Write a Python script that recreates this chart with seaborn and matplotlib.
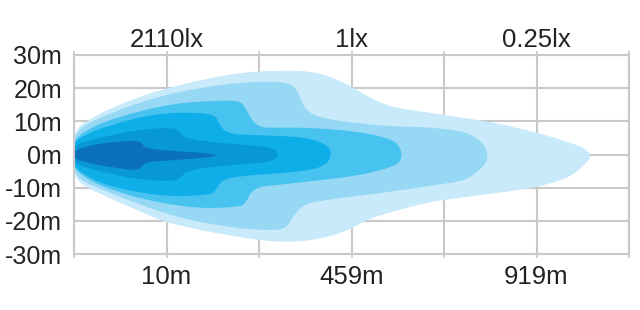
import numpy as np
import matplotlib
matplotlib.use("Agg")
import matplotlib.pyplot as plt
import seaborn as sns

# ---- data (x in grid units 0..6, y in metres) ----
bottom_labels = ["", "10m", "", "459m", "", "919m", ""]
top_labels = ["", "2110lx", "", "1lx", "", "0.25lx", ""]
y_ticks = [-30, -20, -10, 0, 10, 20, 30]
y_labels = ["-30m", "-20m", "-10m", "0m", "10m", "20m", "30m"]

l1_x = [0, 0.02, 0.07, 0.17, 0.357, 0.724, 1.0, 1.438, 1.805, 2.162, 2.551, 2.8, 3.016, 3.232, 3.449,
        3.816, 4.173, 4.605, 5.005, 5.362, 5.524, 5.6,
        5.524, 5.362, 5.005, 4.605, 4.173, 3.816, 3.449, 3.168, 2.984, 2.735, 2.443, 2.162, 1.805, 1.438,
        1.081, 0.93, 0.724, 0.357, 0.19, 0.07, 0.02, 0]
l1_y = [4.5, 6.8, 8.8, 10.6, 13.5, 17.6, 19.9, 22.9, 24.7, 25.3, 25.2, 23.2, 20.2, 16.6, 14.2,
        12.7, 11.2, 9.3, 6.6, 3.6, 1.8, -0.3,
        -3.0, -6.9, -9.9, -11.5, -13.0, -14.5, -17.2, -19.6, -22.6, -25.0, -26.3, -26.3, -25.0, -23.2,
        -21.0, -19.8, -17.3, -12.8, -10.6, -8.8, -6.8, -4.5]

l2_x = [0, 0.02, 0.07, 0.17, 0.357, 0.724, 1.081, 1.438, 1.805, 2.162, 2.303, 2.39, 2.44, 2.49, 2.56,
        2.65, 2.908, 3.449, 3.741, 4.173, 4.335, 4.443, 4.476,
        4.443, 4.281, 4.173, 3.816, 3.276, 2.735, 2.476, 2.368, 2.303, 2.162, 1.805, 1.438, 1.081, 0.724,
        0.357, 0.17, 0.07, 0.02, 0]
l2_y = [4.0, 6.0, 7.9, 9.6, 12.0, 15.8, 18.6, 20.4, 21.7, 22.0, 21.5, 20.3, 17.5, 14.2, 12.4,
        11.3, 9.9, 8.4, 8.4, 7.2, 5.4, 2.7, -0.3,
        -3.3, -6.9, -8.1, -9.6, -11.8, -13.6, -15.1, -18.7, -22.0, -22.9, -22.3, -20.8, -18.6, -15.2,
        -11.2, -9.0, -7.6, -5.8, -4.0]

l3_x = [0, 0.04, 0.17, 0.357, 0.724, 1.081, 1.438, 1.773, 1.838, 1.892, 1.957, 2.043, 2.162, 2.551,
        3.092, 3.449, 3.524, 3.546,
        3.514, 3.384, 3.092, 2.551, 2.162, 2.022, 1.914, 1.859, 1.805, 1.438, 1.081, 0.724, 0.357, 0.17,
        0.04, 0]
l3_y = [3.5, 5.4, 7.8, 10.2, 13.2, 15.3, 16.1, 16.3, 14.8, 11.8, 9.3, 8.1, 8.1, 8.1,
        6.9, 4.5, 2.1, -0.3,
        -2.7, -4.2, -6.3, -8.1, -9.3, -9.6, -11.2, -14.5, -15.7, -16.3, -15.3, -13.3, -10.2, -7.8,
        -5.2, -3.5]

l4_x = [0, 0.04, 0.17, 0.357, 0.724, 1.081, 1.514, 1.568, 1.622, 1.730, 2.162, 2.519, 2.735, 2.789,
        2.735, 2.519, 1.730, 1.589, 1.535, 1.492, 1.081, 0.724, 0.357, 0.17, 0.04, 0]
l4_y = [3.0, 4.6, 6.6, 8.5, 11.4, 12.7, 12.4, 9.3, 7.2, 6.0, 5.7, 5.1, 3.0, 0.3,
        -3.0, -5.1, -6.6, -8.1, -10.6, -12.1, -12.7, -11.6, -9.3, -7.0, -4.6, -3.0]

l5_x = [0, 0.065, 0.357, 0.724, 1.081, 1.146, 1.189, 1.438, 1.795, 2.162, 2.216,
        2.162, 1.795, 1.438, 1.211, 1.157, 1.081, 0.724, 0.357, 0.065, 0]
l5_y = [2.2, 3.4, 5.6, 7.6, 8.1, 6.9, 5.1, 3.9, 3.0, 2.1, 0.0,
        -2.1, -3.0, -3.9, -5.1, -6.9, -8.1, -7.6, -5.6, -3.4, -2.2]

l6_x = [0, 0.173, 0.357, 0.66, 0.73, 0.77, 1.081, 1.362, 1.589,
        1.362, 1.081, 0.78, 0.74, 0.67, 0.357, 0.173, 0]
l6_y = [1.2, 2.7, 3.6, 4.3, 3.7, 1.8, 1.0, 0.6, -0.3,
        -1.1, -1.7, -2.3, -3.6, -4.9, -3.6, -2.7, -1.2]

layer_colors = ["#c8eafa", "#97d8f5", "#48c3ef", "#0eafe9", "#0998d7", "#0a71ba"]


def smooth_outline(xs, ys, n=2):
    pts = np.column_stack([xs, ys]).astype(float)
    for _ in range(n):
        q = np.roll(pts, -1, axis=0)
        new = np.empty((2 * len(pts), 2))
        new[0::2] = 0.75 * pts + 0.25 * q
        new[1::2] = 0.25 * pts + 0.75 * q
        pts = new
    return pts[:, 0], pts[:, 1]


sns.set_theme(style="white")
plt.rcParams["font.family"] = ["Liberation Sans", "DejaVu Sans"]

fig = plt.figure(figsize=(6.4, 3.1), dpi=100)
ax = fig.add_axes([74 / 640, 56 / 310, 555 / 640, 199 / 310])

grid_c = "#c9c9c9"
text_c = "#222222"
layers = [(l1_x, l1_y), (l2_x, l2_y), (l3_x, l3_y), (l4_x, l4_y), (l5_x, l5_y), (l6_x, l6_y)]
for (lx, ly), col in zip(layers, layer_colors):
    sx, sy = smooth_outline(lx, ly)
    ax.fill(sx, sy, color=col, lw=0, zorder=2)

ax.set_xlim(0, 6)
ax.set_ylim(-30, 30)
ax.set_xticks(range(7))
ax.set_xticklabels(bottom_labels)
ax.set_yticks(y_ticks)
ax.set_yticklabels(y_labels)
ax.set_axisbelow(True)
ax.grid(True, color=grid_c, lw=1.5)
for s in ax.spines.values():
    s.set_color(grid_c)
    s.set_linewidth(1.5)
ax.tick_params(axis="x", bottom=True, length=3, width=1.2, color=grid_c, pad=4.8,
               labelsize=18.5, labelcolor=text_c)
ax.tick_params(axis="y", left=False, length=0, pad=8.5, labelsize=18, labelcolor=text_c)

sec = ax.secondary_xaxis("top")
sec.set_xticks(range(7))
sec.set_xticklabels(top_labels)
sec.tick_params(axis="x", top=True, length=3, width=1.2, color=grid_c, pad=-0.5,
                labelsize=18.5, labelcolor=text_c)
sec.spines["top"].set_visible(False)

fig.savefig("out.png", dpi=100)
